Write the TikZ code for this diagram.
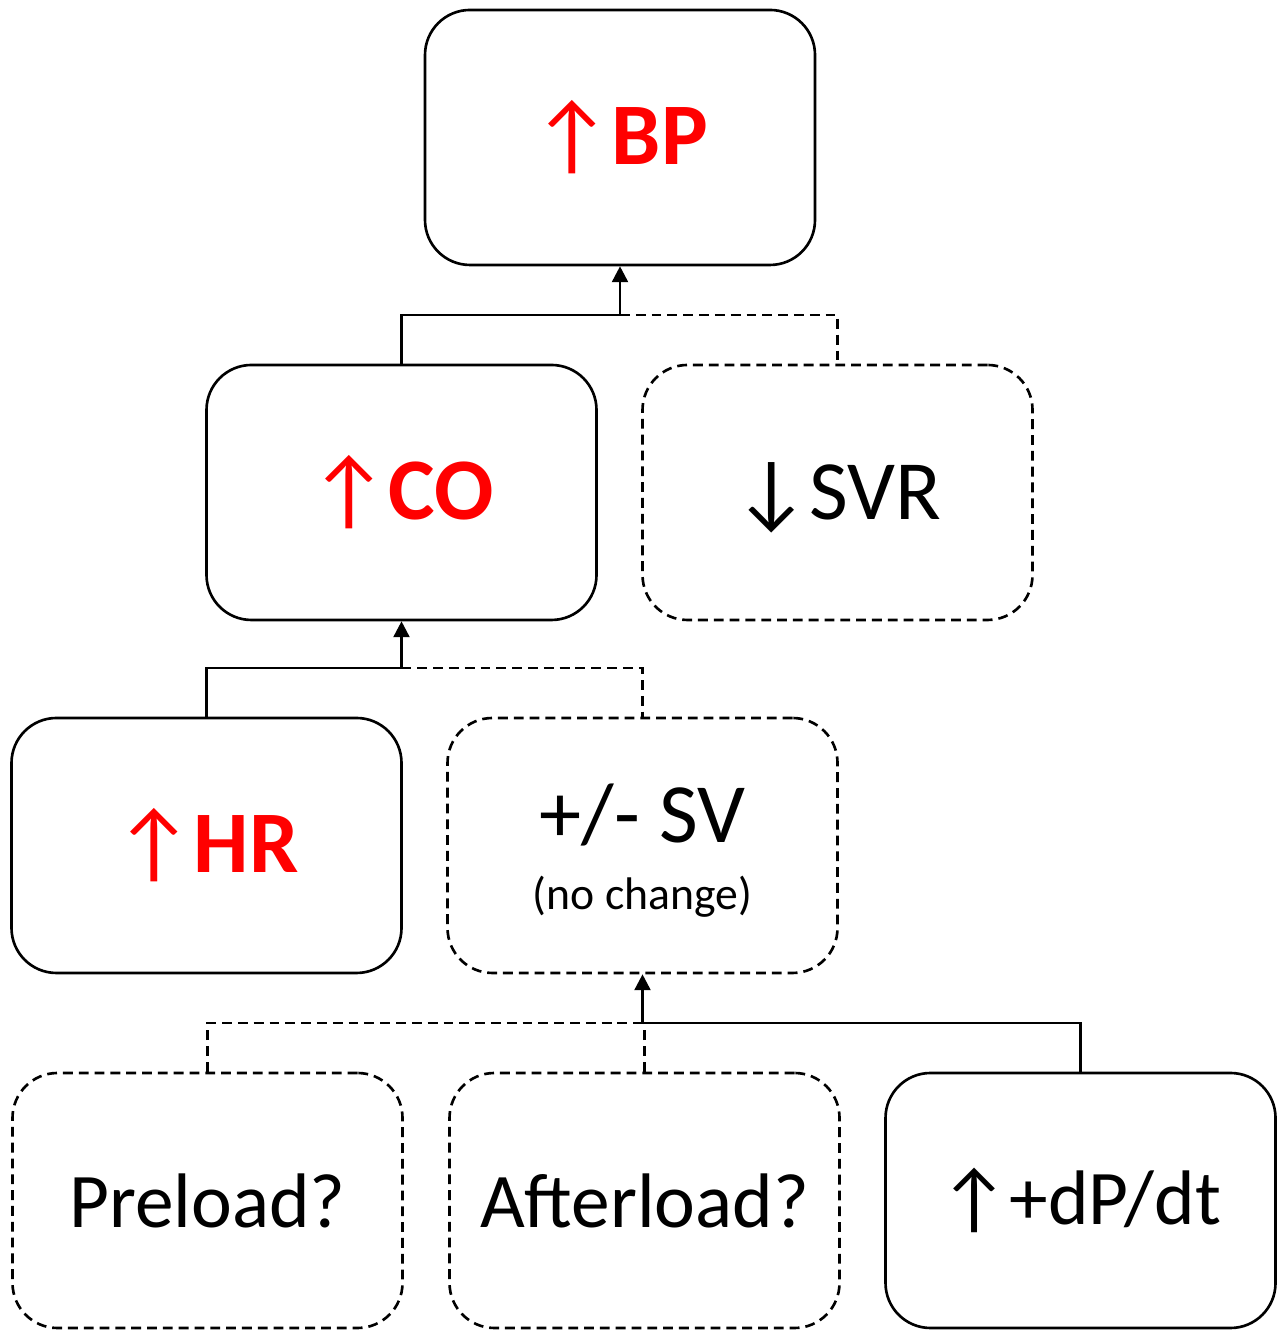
\documentclass[tikz,border=0pt]{standalone}
\usepackage{fontspec}
\setmainfont{Carlito}
\usepackage{tikz}
\usetikzlibrary{arrows.meta, positioning, calc}
\usepackage{xcolor}

\begin{document}
\begin{tikzpicture}[
  box/.style={rectangle, draw, line width=0.75pt, rounded corners=0.45cm,
    minimum width=3.9cm, minimum height=2.55cm, align=center, font=\fontsize{22}{26}\selectfont},
  dbox/.style={box, dash pattern=on 2.8pt off 1.7pt},
  up/.style={font=\fontsize{25}{28}\selectfont, text=red},
  line/.style={line width=0.75pt},
  dline/.style={line width=0.75pt, dash pattern=on 2.8pt off 1.7pt},
  arrow/.style={line width=0.75pt, -{Triangle[length=4.5pt,width=4.5pt]}}
  ]
  \useasboundingbox (0,0) rectangle (12.82,13.32);
  \node[box, up] (bp) at (6.2,11.945) {↑\bfseries BP};
  \node[box, up] (co) at (4.015,8.395) {↑\bfseries CO};
  \node[dbox, text height=0.55cm, text depth=0pt] (svr) at (8.375,8.395) {\fontsize{24}{28}\selectfont ↓SVR};
  \node[box, up] (hr) at (2.065,4.865) {↑\bfseries HR};
  \node[dbox, text height=1.28cm, text depth=0pt] (sv) at (6.425,4.865) {\begin{tabular}[b]{@{}c@{}}
    \fontsize{24}{28}\selectfont +/- SV\\[-7pt] \fontsize{13}{16}\selectfont (no change)\end{tabular}};
  \node[dbox] (pre) at (2.075,1.315) {Preload?};
  \node[dbox] (aft) at (6.445,1.315) {Afterload?};
  \node[box] (dp) at (10.805,1.315) {↑+dP/dt};
  % junctions
  \coordinate (j1) at (6.2,10.17);
  \coordinate (j2) at (4.015,6.64);
  \coordinate (j3) at (6.425,3.09);
  \draw[line] (co.north) |- (j1);
  \draw[dline] (j1) -| (svr.north);
  \draw[arrow] (j1) -- (bp.south);
  \draw[line] (hr.north) |- (j2);
  \draw[dline] (j2) -| (sv.north);
  \draw[arrow] (j2) -- (co.south);
  \draw[dline] (pre.north) |- (j3);
  \draw[dline] (aft.north) -- (aft.north |- j3);
  \draw[line] (dp.north) |- (j3);
  \draw[arrow] (j3) -- (sv.south);
\end{tikzpicture}
\end{document}
